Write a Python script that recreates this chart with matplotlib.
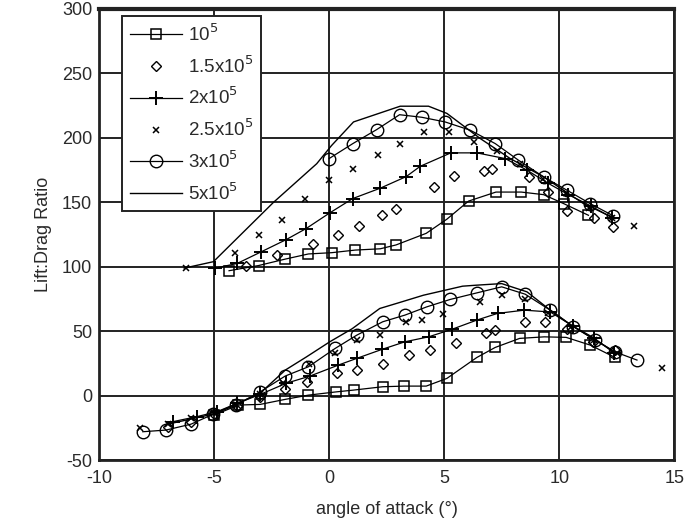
import matplotlib
matplotlib.use("Agg")
import matplotlib.pyplot as plt

plt.rcParams['font.family'] = ['Liberation Sans', 'DejaVu Sans']

labels = ["10$^5$", "1.5x10$^5$", "2x10$^5$", "2.5x10$^5$", "3x10$^5$", "5x10$^5$"]

# ---- upper group ----
up_sq_x = [-4.35, -3.07, -1.91, -0.9, 0.12, 1.13, 2.22, 2.91, 4.22, 5.12, 6.06, 7.25, 8.35, 9.32, 10.2, 11.27]
up_sq_y = [97, 101, 106, 110, 111, 113, 114, 117, 126, 137, 151, 158, 158, 156, 149, 140]

up_di_x = [-3.6, -2.27, -0.68, 0.4, 1.3, 2.3, 2.9, 4.54, 5.43, 6.71, 7.07, 8.67, 9.5, 10.33, 11.5, 12.35]
up_di_y = [101, 109, 118, 125, 132, 140, 144.5, 162, 170.5, 174, 176, 170, 158, 143, 137.5, 131]

up_pl_x = [-4.96, -4.0, -2.96, -1.88, -1.0, 0.04, 1.03, 2.22, 3.35, 3.96, 5.29, 6.42, 7.65, 8.6, 9.5, 10.4, 11.4, 12.3]
up_pl_y = [99, 102.6, 111.6, 121, 129.7, 142, 153, 161, 170, 178, 188.4, 188.4, 184, 175, 165, 156, 147, 138]

up_xm_x = [-6.2, -4.09, -3.07, -2.06, -1.04, 0.0, 1.03, 2.14, 3.09, 4.14, 5.19, 6.3, 7.3, 8.3, 9.3, 10.3, 11.3, 12.3, 13.27]
up_xm_y = [98.8, 111, 125, 136.7, 153, 167, 176, 186.6, 195.6, 204.7, 204.7, 197, 190, 180, 168, 157, 146, 138, 131.5]

up_ci_x = [0.0, 1.03, 2.07, 3.06, 4.03, 5.04, 6.13, 7.22, 8.23, 9.32, 10.33, 11.35, 12.35]
up_ci_y = [184, 195.6, 206.5, 218, 216, 212.4, 206, 195.6, 182.7, 169.8, 159.5, 149, 139.6]

up_ln_x = [-6.3, -5.03, -2.42, -0.54, 0.1, 1.06, 3.09, 4.32, 5.12, 6.57, 7.87, 9.3, 11.06, 12.43]
up_ln_y = [99, 104, 150, 180, 194, 212.4, 224.6, 224.6, 219, 199.5, 184, 170, 149, 137.5]

# ---- lower group ----
lo_sq_x = [-5.0, -3.94, -3.0, -1.91, -0.9, 0.3, 1.06, 2.33, 3.26, 4.22, 5.12, 6.42, 7.22, 8.28, 9.35, 10.3, 11.35, 12.43]
lo_sq_y = [-15, -7.2, -6.7, -2.8, 0.5, 3, 4.4, 7, 7.5, 7.5, 13.5, 29.7, 37.5, 44.5, 45.7, 45.3, 39.3, 29.7]

lo_di_x = [-7.0, -6.0, -5.0, -4.0, -3.0, -1.9, -0.97, 0.33, 1.2, 2.36, 3.45, 4.39, 5.52, 6.83, 7.22, 8.52, 9.39, 10.33, 11.49, 12.43]
lo_di_y = [-24, -20, -14, -8, -1, 5, 10.9, 17.4, 20, 25, 31.6, 35.4, 41, 48.8, 51, 57.4, 57.4, 52, 41.9, 35.4]

lo_pl_x = [-6.77, -5.75, -4.88, -4.0, -3.0, -1.88, -0.83, 0.4, 1.2, 2.3, 3.3, 4.32, 5.33, 6.42, 7.32, 8.48, 9.61, 10.6, 11.5, 12.4]
lo_pl_y = [-20, -16.2, -12.4, -5.9, 1, 9.6, 15.3, 23.8, 29, 36, 41.9, 45.7, 51.5, 58.7, 63.9, 66.4, 65, 54, 45, 33]

lo_xm_x = [-8.2, -7.0, -6.0, -5.0, -4.0, -3.0, -2.0, -0.87, 0.26, 1.2, 2.22, 3.35, 4.03, 4.97, 6.57, 7.5, 8.5, 9.5, 10.5, 11.5, 12.5, 14.46]
lo_xm_y = [-25, -22, -17, -13, -7, 1, 10, 24.7, 33, 43, 47, 57.4, 58.7, 63.8, 72.9, 78, 75, 64, 53, 43, 33, 21.2]

lo_ci_x = [-8.1, -7.09, -6.0, -5.03, -4.04, -3.0, -1.91, -0.9, 0.26, 1.2, 2.33, 3.3, 4.25, 5.26, 6.42, 7.5, 8.52, 9.61, 10.62, 11.57, 12.43, 13.38]
lo_ci_y = [-27.9, -26.6, -22, -14.2, -7.2, 3, 15.3, 22.5, 36.7, 47, 57.4, 62.6, 69, 74.7, 79.8, 84.5, 78.8, 66.4, 53.5, 43.2, 34, 27.7]

lo_ln_x = [-7.0, -5.0, -3.0, -1.9, -1.0, 0.04, 1.0, 2.2, 3.0, 4.1, 5.8, 6.42, 7.5, 8.6, 9.5, 10.5, 11.5, 12.5]
lo_ln_y = [-22, -14, 2, 20, 30, 42, 52, 67.7, 72, 78, 85, 85.8, 87, 80.6, 68, 55, 44, 33]

x_ticks = [-10, -5, 0, 5, 10, 15]
y_ticks = [-50, 0, 50, 100, 150, 200, 250, 300]

fig = plt.figure(figsize=(6.88, 5.29), dpi=100)
ax = fig.add_axes([0.144, 0.130, 0.836, 0.853])

k = 'black'
lw = 0.9
ms = 7
txt = '#2a2a2a'

for grp in ('up', 'lo'):
    d = globals()
    ax.plot(d[grp + '_sq_x'], d[grp + '_sq_y'], color=k, lw=lw, marker='s', ms=ms - 0.5,
            mfc='none', mec=k, mew=1.1, label=labels[0] if grp == 'up' else None)
    ax.plot(d[grp + '_di_x'], d[grp + '_di_y'], ls='none', marker='D', ms=ms - 1.5,
            mfc='none', mec=k, mew=1.0, label=labels[1] if grp == 'up' else None)
    ax.plot(d[grp + '_pl_x'], d[grp + '_pl_y'], color=k, lw=lw, marker='+', ms=ms + 3,
            mec=k, mew=1.4, label=labels[2] if grp == 'up' else None)
    ax.plot(d[grp + '_xm_x'], d[grp + '_xm_y'], ls='none', marker='x', ms=5,
            mec=k, mew=1.1, label=labels[3] if grp == 'up' else None)
    ax.plot(d[grp + '_ci_x'], d[grp + '_ci_y'], color=k, lw=lw, marker='o', ms=ms + 2,
            mfc='none', mec=k, mew=1.0, label=labels[4] if grp == 'up' else None)
    ax.plot(d[grp + '_ln_x'], d[grp + '_ln_y'], color=k, lw=1.0,
            label=labels[5] if grp == 'up' else None)

ax.set_xlim(-10, 15)
ax.set_ylim(-50, 300)
ax.set_xticks(x_ticks)
ax.set_yticks(y_ticks)
ax.set_xticklabels([str(v) for v in x_ticks])
ax.set_yticklabels([str(v) for v in y_ticks])
ax.grid(True, color='#222222', lw=1.4)
ax.set_axisbelow(True)
ax.tick_params(length=0, labelsize=13, colors=txt)
ax.tick_params(axis='x', pad=7)
ax.tick_params(axis='y', pad=5)
for s in ax.spines.values():
    s.set_linewidth(2.0)
    s.set_color('#222222')
ax.spines['top'].set_linewidth(3.0)

ax.set_xlabel('angle of attack (°)', fontsize=13, color=txt, labelpad=10)
ax.set_ylabel('Lift:Drag Ratio', fontsize=13, color=txt, labelpad=7)

leg = ax.legend(loc='upper left', bbox_to_anchor=(0.04, 0.985), fontsize=13.5,
                frameon=True, fancybox=False, edgecolor='#222222', framealpha=1,
                handlelength=2.8, labelspacing=0.55, borderpad=0.4, handletextpad=0.3,
                borderaxespad=0.0, labelcolor=txt)
leg.get_frame().set_linewidth(1.4)

fig.savefig('out.png', dpi=100)
